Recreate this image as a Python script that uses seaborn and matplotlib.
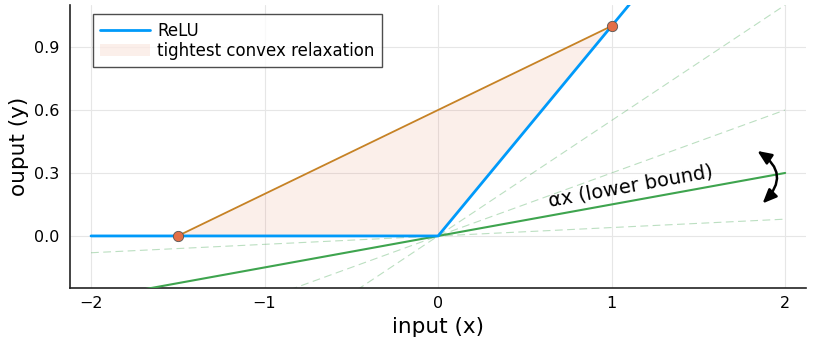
import numpy as np
import pandas as pd
import seaborn as sns
import matplotlib.pyplot as plt
from matplotlib.patches import Patch
from matplotlib.lines import Line2D

# data
relu_x = [-2.0, 0.0, 2.0]
relu_y = [0.0, 0.0, 2.0]
hull_x = [-1.5, 1.0]
hull_y = [0.0, 1.0]
tri_x = [-1.5, 0.0, 1.0]
tri_y = [0.0, 0.0, 1.0]
alpha_main = 0.15
alpha_dashed = [0.04, 0.3, 0.55]
line_x = [-2.0, 2.0]
xticks = [-2, -1, 0, 1, 2]
yticks = [0.0, 0.3, 0.6, 0.9]

sns.set_theme(style="white")
plt.rcParams['font.family'] = ['DejaVu Sans']
plt.rcParams['text.color'] = 'black'
plt.rcParams['axes.labelcolor'] = 'black'

fig = plt.figure(figsize=(8.22, 3.43), dpi=100)
ax = fig.add_axes([0.0852, 0.1603, 0.8953, 0.8251])

BLUE = "#009AFA"
ORANGE = "#E36F47"
BROWN = "#C68225"
GREEN = "#3EA44E"

# dashed alternatives
for a in alpha_dashed:
    df = pd.DataFrame({"x": line_x, "y": [a * v for v in line_x]})
    sns.lineplot(data=df, x="x", y="y", ax=ax, color=GREEN, alpha=0.35,
                 lw=0.8, linestyle=(0, (7, 4)), zorder=2)

# fill of convex relaxation
ax.fill(tri_x, tri_y, color=ORANGE, alpha=0.11, lw=0, zorder=1)

# green lower bound
df_g = pd.DataFrame({"x": line_x, "y": [alpha_main * v for v in line_x]})
sns.lineplot(data=df_g, x="x", y="y", ax=ax, color=GREEN, lw=1.5, zorder=3)

# relu
df_r = pd.DataFrame({"x": relu_x, "y": relu_y})
sns.lineplot(data=df_r, x="x", y="y", ax=ax, color=BLUE, lw=2.0, zorder=4)

# upper hull line
df_h = pd.DataFrame({"x": hull_x, "y": hull_y})
sns.lineplot(data=df_h, x="x", y="y", ax=ax, color=BROWN, lw=1.3, zorder=4)
sns.scatterplot(data=df_h, x="x", y="y", ax=ax, color=ORANGE, s=55,
                edgecolor="#555555", linewidth=0.6, zorder=5)

ax.set_xlim(-2.121, 2.12)
ax.set_ylim(-0.248, 1.1)
ax.set_xticks(xticks)
ax.set_xticklabels(["\u22122", "\u22121", "0", "1", "2"])
ax.set_yticks(yticks)
ax.set_yticklabels([f"{v:.1f}" for v in yticks])
ax.grid(True, color="#e6e6e6", lw=0.8)
ax.set_axisbelow(True)
for s in ["top", "right"]:
    ax.spines[s].set_visible(False)
for s in ["left", "bottom"]:
    ax.spines[s].set_color("#222222")
    ax.spines[s].set_linewidth(1.2)
ax.tick_params(axis="x", direction="in", length=4, width=1, colors="#222222",
               labelsize=11.5, labelcolor="black", pad=6)
ax.tick_params(axis="y", direction="out", length=4, width=1, colors="#222222",
               labelsize=11.5, labelcolor="black")
ax.set_xlabel("input (x)", fontsize=15.5, labelpad=4)
ax.set_ylabel("ouput (y)", fontsize=15.5, labelpad=4)

ax.text(1.107, 0.235, "\u03b1x (lower bound)", fontsize=14, rotation=10.3,
        ha="center", va="center", rotation_mode="anchor", zorder=6,
        color="black")

ax.annotate("", xy=(1.84, 0.405), xytext=(1.87, 0.155),
            arrowprops=dict(arrowstyle="<|-|>,head_length=0.7,head_width=0.3",
                            color="black", lw=1.8, shrinkA=0, shrinkB=0,
                            connectionstyle="arc3,rad=0.6"), zorder=6)

handles = [Line2D([0], [0], color=BLUE, lw=2),
           Patch(facecolor=ORANGE, alpha=0.11, edgecolor="none")]
leg = ax.legend(handles, ["ReLU", "tightest convex relaxation"], loc="upper left",
                bbox_to_anchor=(0.031, 0.968), fontsize=12, frameon=True,
                fancybox=False, edgecolor="#222222", handlelength=3.0,
                borderpad=0.45, labelspacing=0.12, handletextpad=0.4,
                borderaxespad=0)
leg.get_frame().set_linewidth(1.0)
for t in leg.get_texts():
    t.set_color("black")

fig.savefig("out.png", dpi=100)
